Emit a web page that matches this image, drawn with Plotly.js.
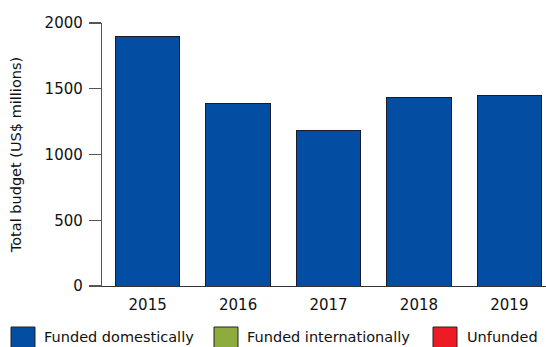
<!DOCTYPE html>
<html>
<head>
<meta charset="utf-8">
<script src="https://cdn.plot.ly/plotly-3.0.1.min.js"></script>
<style>html,body{margin:0;padding:0;background:#fff;}#chart{width:546px;height:347px;}</style>
</head>
<body>
<div id="chart"></div>
<script>
const years = ['2015', '2016', '2017', '2018', '2019'];
const fundedDomestically = [1895, 1385, 1180, 1435, 1450];
const fundedInternationally = [0, 0, 0, 0, 0];
const unfunded = [0, 0, 0, 0, 0];
const seriesNames = ['Funded domestically', 'Funded internationally', 'Unfunded'];
const seriesColors = ['#034ea2', '#8eab3e', '#ed1c24'];
const yTicks = [0, 500, 1000, 1500, 2000];

const W = 546, H = 347;
const M = {l: 102, r: 0, t: 23, b: 61};
const pw = W - M.l - M.r, ph = H - M.t - M.b;
const px = x => (x - M.l) / pw;
const py = y => (H - M.b - y) / ph;

const FONT = 'DejaVu Sans, sans-serif';
const series = [fundedDomestically, fundedInternationally, unfunded];
const traces = series.map((vals, i) => ({
  type: 'bar', x: years, y: vals, name: seriesNames[i],
  marker: {color: seriesColors[i], line: {color: '#1a1a2a', width: i === 0 ? 1 : 0}},
  showlegend: false, hoverinfo: 'skip'
}));

const legendBoxes = [[11, 35], [214, 238], [433, 457]];
const legendText = [42, 245, 465];
const shapes = legendBoxes.map((b, i) => ({
  type: 'rect', xref: 'paper', yref: 'paper',
  x0: px(b[0]), x1: px(b[1]), y0: py(327), y1: py(352),
  fillcolor: seriesColors[i], line: {color: '#222', width: 1}
}));
const annotations = seriesNames.map((n, i) => ({
  xref: 'paper', yref: 'paper', x: px(legendText[i]), y: py(337),
  xanchor: 'left', yanchor: 'middle', showarrow: false, text: n,
  font: {family: FONT, size: 14.5, color: '#111'}
}));

const layout = {
  width: W, height: H, margin: M,
  paper_bgcolor: '#fff', plot_bgcolor: '#fff',
  barmode: 'stack', bargap: 0.29,
  font: {family: FONT, size: 15, color: '#111'},
  xaxis: {
    type: 'category', range: [-0.505, 4.405], showline: true, linecolor: '#333', linewidth: 1,
    ticks: '', showgrid: false, zeroline: false, ticklabelstandoff: 5,
    tickfont: {family: FONT, size: 15, color: '#111'}
  },
  yaxis: {
    range: [0, 2000], tickvals: yTicks, ticktext: yTicks.map(String),
    showline: true, linecolor: '#555', linewidth: 1.2, ticks: 'outside', ticklen: 12, tickcolor: '#555', tickwidth: 1.2,
    showgrid: false, zeroline: false, ticklabelstandoff: 3,
    tickfont: {family: FONT, size: 15, color: '#111'},
    title: {text: 'Total budget (US$ millions)', font: {family: FONT, size: 14.5, color: '#111'}, standoff: 19}
  },
  shapes: shapes, annotations: annotations, showlegend: false
};

Plotly.newPlot('chart', traces, layout, {staticPlot: true, displayModeBar: false});
</script>
</body>
</html>
